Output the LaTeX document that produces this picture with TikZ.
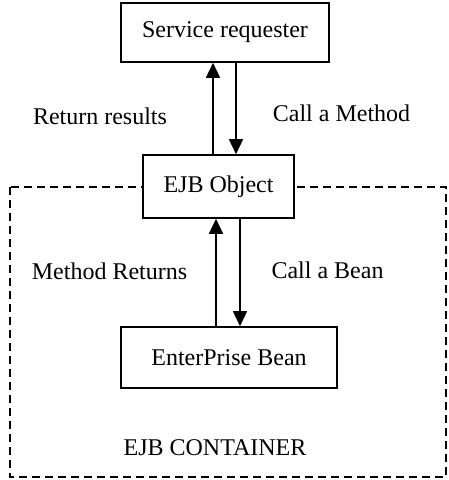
\documentclass[tikz,border=0pt]{standalone}
\usepackage{fontspec}
\setmainfont{Liberation Serif}
\usetikzlibrary{arrows.meta}
\begin{document}
\begin{tikzpicture}[x=1pt,y=-1pt,
  box/.style={draw,line width=1.6pt,fill=white,inner sep=0pt,font=\fontsize{24}{28}\selectfont},
  lbl/.style={font=\fontsize{24}{28}\selectfont,inner sep=0pt},
  arr/.style={line width=1.6pt,-{Triangle[length=15pt,width=14pt]}},
  cont/.style={draw,line width=1.5pt,dash pattern=on 8pt off 5pt}]
\useasboundingbox (0,0) rectangle (448,480);
\draw[cont] (10,187) rectangle (446,477);
\node[box,minimum width=208pt,minimum height=59pt] (sr) at (225,32.5) {Service requester};
\node[box,minimum width=151pt,minimum height=63pt] (ejb) at (218.5,186.5) {EJB Object};
\node[box,minimum width=216pt,minimum height=61pt] (eb) at (229,357.5) {EnterPrise Bean};
\coordinate (a1) at (213,0);
\coordinate (a2) at (236,0);
\coordinate (b1) at (216,0);
\coordinate (b2) at (240,0);
\draw[arr] (ejb.north -| a1) -- (sr.south -| a1);
\draw[arr] (sr.south -| a2) -- (ejb.north -| a2);
\draw[arr] (eb.north -| b1) -- (ejb.south -| b1);
\draw[arr] (ejb.south -| b2) -- (eb.north -| b2);
\node[lbl] (l1) at (100,116) {Return results};
\node[lbl] (l2) at (341.5,113) {Call a Method};
\node[lbl] (l3) at (109.5,271) {Method Returns};
\node[lbl] (l4) at (327.5,270) {Call a Bean};
\node[lbl] (l5) at (215,448) {EJB CONTAINER};
\end{tikzpicture}
\end{document}
